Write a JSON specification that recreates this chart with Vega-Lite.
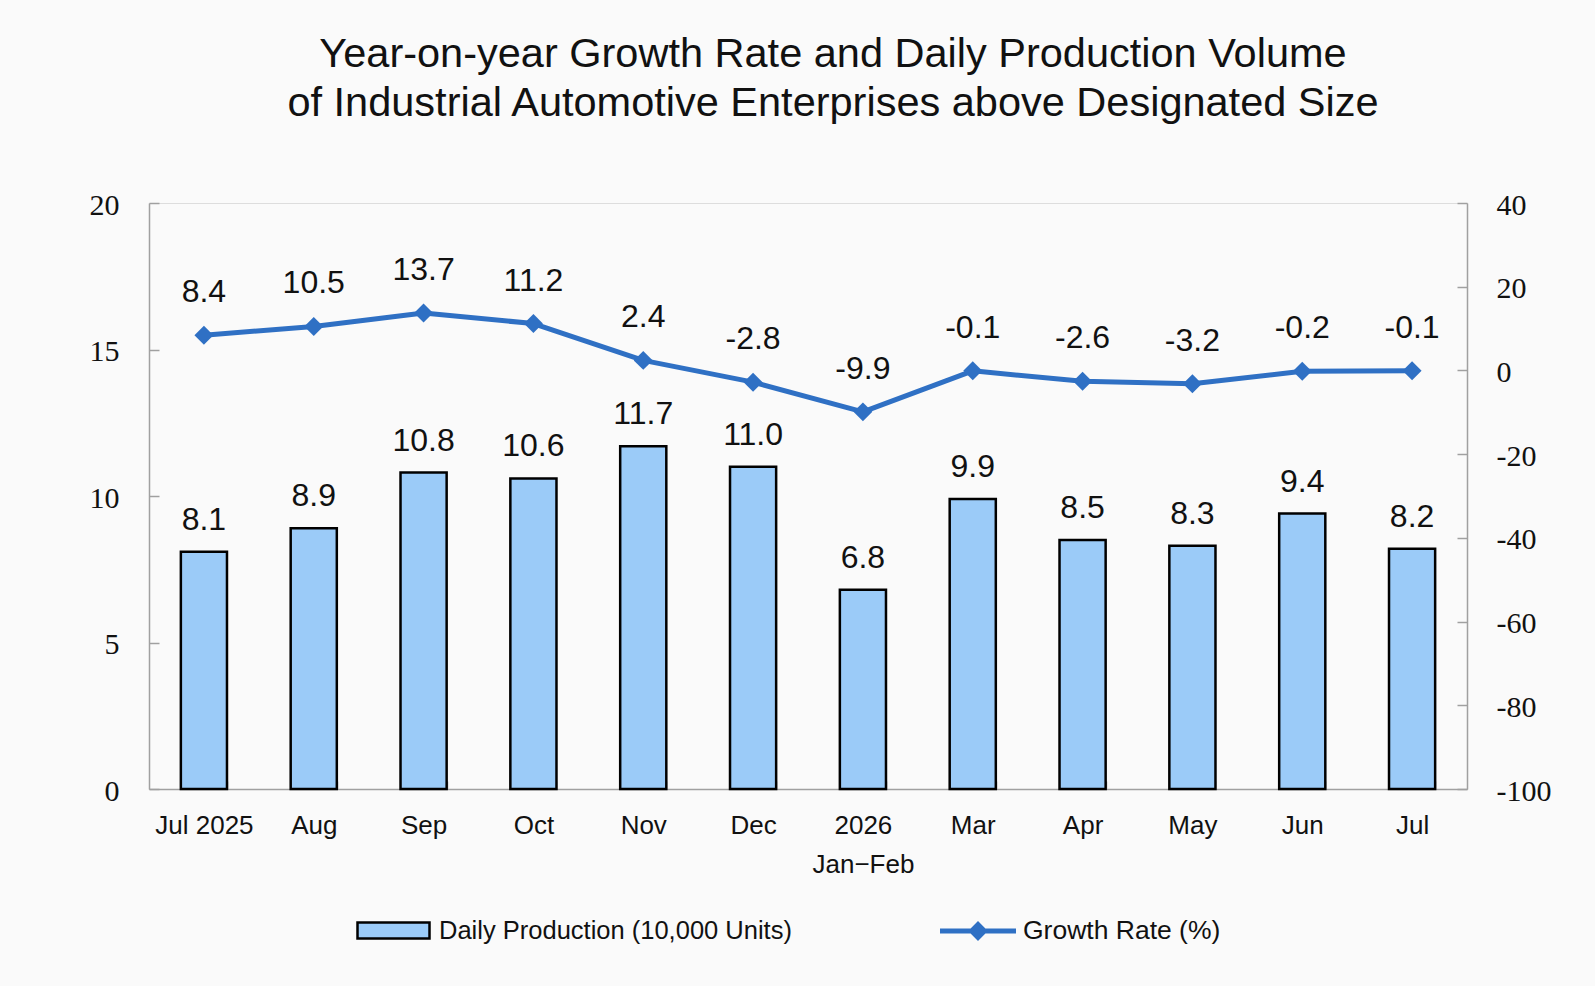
{
  "$schema": "https://vega.github.io/schema/vega-lite/v6.json",
  "width": 1318,
  "height": 586,
  "autosize": {"type": "none"},
  "padding": {"left": 149, "top": 203, "right": 128, "bottom": 197},
  "background": "#fafafa",
  "title": {
    "text": ["Year-on-year Growth Rate and Daily Production Volume", "of Industrial Automotive Enterprises above Designated Size"],
    "font": "Liberation Sans",
    "fontSize": 41.5,
    "fontWeight": "normal",
    "color": "#111111",
    "anchor": "middle",
    "dx": 25,
    "lineHeight": 49,
    "offset": 66
  },
  "data": {
    "values": [
      {"month": "Jul 2025", "production": 8.1, "growth": 8.4},
      {"month": "Aug", "production": 8.9, "growth": 10.5},
      {"month": "Sep", "production": 10.8, "growth": 13.7},
      {"month": "Oct", "production": 10.6, "growth": 11.2},
      {"month": "Nov", "production": 11.7, "growth": 2.4},
      {"month": "Dec", "production": 11.0, "growth": -2.8},
      {"month": "2026 Jan−Feb", "production": 6.8, "growth": -9.9},
      {"month": "Mar", "production": 9.9, "growth": -0.1},
      {"month": "Apr", "production": 8.5, "growth": -2.6},
      {"month": "May", "production": 8.3, "growth": -3.2},
      {"month": "Jun", "production": 9.4, "growth": -0.2},
      {"month": "Jul 2026", "production": 8.2, "growth": -0.1}
    ]
  },
  "transform": [
    {"calculate": "replace(format(datum.growth, '.1f'), '−', '-')", "as": "growth_label"}
  ],
  "encoding": {
    "x": {
      "field": "month",
      "type": "nominal",
      "sort": null,
      "scale": {"paddingInner": 0.58, "paddingOuter": 0.29},
      "axis": {
        "title": null,
        "labelAngle": 0,
        "labelFont": "Liberation Sans",
        "labelFontSize": 26,
        "labelColor": "#111111",
        "labelPadding": 31,
        "labelLineHeight": 39,
        "labelBaseline": "top",
        "labelExpr": "datum.label == 'Jul 2026' ? 'Jul' : datum.label == '2026 Jan−Feb' ? ['2026', 'Jan−Feb'] : datum.label",
        "tickBand": "extent",
        "tickSize": -8,
        "tickColor": "#a0a0a0",
        "tickWidth": 1.5,
        "domainColor": "#a0a0a0",
        "domainWidth": 1.5
      }
    }
  },
  "layer": [
    {
      "encoding": {
        "y": {
          "field": "production",
          "type": "quantitative",
          "scale": {"domain": [0, 20]},
          "axis": {
            "orient": "left",
            "title": null,
            "values": [0, 5, 10, 15, 20],
            "grid": false,
            "labelFont": "Liberation Serif",
            "labelFontSize": 30,
            "labelColor": "#111111",
            "labelPadding": 40,
            "labelOffset": 2,
            "tickSize": -10,
            "tickColor": "#a0a0a0",
            "tickWidth": 1.5,
            "domainColor": "#a0a0a0",
            "domainWidth": 1.5
          }
        }
      },
      "layer": [
        {
          "mark": {"type": "bar", "stroke": "#000000", "strokeWidth": 2.5},
          "encoding": {
            "fill": {
              "datum": "Daily Production (10,000 Units)",
              "scale": {"range": ["#9bcbf8"]},
              "legend": {
                "orient": "none",
                "legendX": 207,
                "legendY": 690,
                "title": null,
                "padding": 0,
                "symbolType": "M-1,-0.222H1V0.222H-1Z",
                "symbolSize": 5184,
                "symbolStrokeColor": "#000000",
                "symbolStrokeWidth": 2.5,
                "labelFont": "Liberation Sans",
                "labelFontSize": 25.5,
                "labelColor": "#111111",
                "labelOffset": 8,
                "labelLimit": 0
              }
            }
          }
        },
        {
          "mark": {"type": "text", "baseline": "alphabetic", "dy": -22, "font": "Liberation Sans", "fontSize": 32, "color": "#111111"},
          "encoding": {
            "text": {"field": "production", "type": "quantitative", "format": ".1f"}
          }
        }
      ]
    },
    {
      "encoding": {
        "y": {
          "field": "growth",
          "type": "quantitative",
          "scale": {"domain": [-100, 40]},
          "axis": {
            "orient": "right",
            "title": null,
            "values": [-100, -80, -60, -40, -20, 0, 20, 40],
            "grid": false,
            "labelExpr": "replace(datum.label, '−', '-')",
            "labelFont": "Liberation Serif",
            "labelFontSize": 30,
            "labelColor": "#111111",
            "labelPadding": 39,
            "labelOffset": 2,
            "tickSize": -10,
            "tickColor": "#a0a0a0",
            "tickWidth": 1.5,
            "domainColor": "#a0a0a0",
            "domainWidth": 1.5
          }
        }
      },
      "layer": [
        {
          "mark": {"type": "line", "strokeWidth": 5, "strokeJoin": "round"},
          "encoding": {
            "stroke": {
              "datum": "Growth Rate (%)",
              "scale": {"range": ["#2f70c4"]},
              "legend": {
                "orient": "none",
                "legendX": 791,
                "legendY": 690,
                "title": null,
                "padding": 0,
                "symbolType": "M-1,-0.066H1V0.066H-1Z M0,-0.26L0.26,0L0,0.26L-0.26,0Z",
                "symbolSize": 5776,
                "symbolStrokeWidth": 0,
                "symbolFillColor": "#2f70c4",
                "labelFont": "Liberation Sans",
                "labelFontSize": 26.5,
                "labelColor": "#111111",
                "labelOffset": 7,
                "labelLimit": 0,
                "encode": {"symbols": {"update": {"fill": {"value": "#2f70c4"}, "strokeWidth": {"value": 0}}}}
              }
            }
          }
        },
        {
          "mark": {"type": "point", "shape": "diamond", "filled": true, "size": 360, "color": "#2f70c4", "opacity": 1}
        },
        {
          "mark": {"type": "text", "baseline": "alphabetic", "dy": -33, "font": "Liberation Sans", "fontSize": 32, "color": "#111111"},
          "encoding": {
            "text": {"field": "growth_label", "type": "nominal"}
          }
        }
      ]
    }
  ],
  "resolve": {"scale": {"y": "independent"}}
}
